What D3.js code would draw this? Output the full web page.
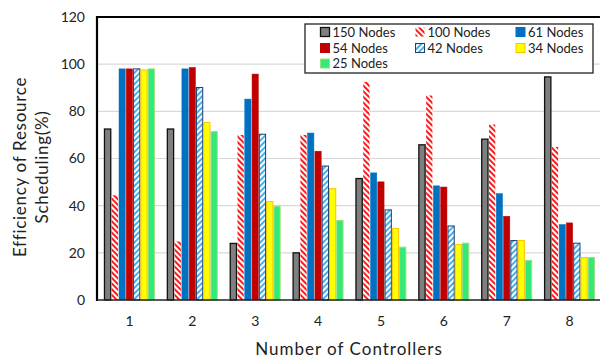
<!DOCTYPE html>
<html><head><meta charset="utf-8">
<script src="https://cdn.jsdelivr.net/npm/d3@7"></script>
<style>
body{margin:0;background:#fff;}
text{font-family:Lato,"Open Sans",sans-serif;fill:#222;}
</style></head>
<body><svg id="c" width="600" height="358"></svg>
<script>
const categories = ["1","2","3","4","5","6","7","8"];
const seriesNames = ["150 Nodes","100 Nodes","61 Nodes","54 Nodes","42 Nodes","34 Nodes","25 Nodes"];
const s150 = [72.5, 72.5, 24, 20, 51.5, 65.8, 68.2, 94.6];
const s100 = [44.4, 24.8, 70, 70, 92.5, 86.7, 74.4, 64.9];
const s61  = [98, 98, 85.2, 70.8, 53.9, 48.4, 45.1, 32];
const s54  = [98, 98.6, 95.8, 63.1, 50.1, 47.9, 35.5, 32.7];
const s42  = [98, 90.1, 70.3, 56.8, 38.2, 31.4, 25.2, 24.1];
const s34  = [97.5, 75.3, 41.7, 47.2, 30.3, 23.5, 25.2, 18];
const s25  = [98, 71.4, 39.8, 33.7, 22.4, 24.1, 16.8, 18];
const yTicks = [0,20,40,60,80,100,120];
const seriesValues = [s150,s100,s61,s54,s42,s34,s25];

const svg = d3.select("#c");
const defs = svg.append("defs");
function stripe(id, color, angle){
  const p = defs.append("pattern").attr("id",id).attr("patternUnits","userSpaceOnUse")
    .attr("width",4).attr("height",4).attr("patternTransform","rotate("+angle+")");
  p.append("rect").attr("width",4).attr("height",4).attr("fill","#fff");
  p.append("rect").attr("width",2).attr("height",4).attr("fill",color);
}
stripe("hRed","#ff1a1a",-45);
stripe("hBlue","#45b0ea",45);

const styles = [
  {fill:"#7f7f7f", stroke:"#111", sw:1.3},
  {fill:"url(#hRed)", stroke:"none", sw:0},
  {fill:"#0070c0", stroke:"#0070c0", sw:0.5},
  {fill:"#c00000", stroke:"#c00000", sw:0.5},
  {fill:"url(#hBlue)", stroke:"#1f3f6f", sw:1},
  {fill:"#ffff00", stroke:"#ffc000", sw:1},
  {fill:"#33ea78", stroke:"#9ddf80", sw:1}
];

const pLeft=98, pRight=601, pTop=17, pBottom=300;
const x0 = d3.scaleBand().domain(categories).range([pLeft,pRight]).paddingInner(0.19).paddingOuter(0.095);
const x1 = d3.scaleBand().domain(seriesNames).range([0,x0.bandwidth()]);
const y = d3.scaleLinear().domain([0,120]).range([pBottom,pTop]);

// gridlines
svg.append("g").selectAll("line").data(yTicks.filter(d=>d>0&&d<120)).join("line")
  .attr("x1",pLeft).attr("x2",600).attr("y1",d=>y(d)).attr("y2",d=>y(d))
  .attr("stroke","#d9d9d9").attr("stroke-width",1.2);

// bars
const groups = svg.append("g").selectAll("g").data(categories).join("g")
  .attr("transform",d=>`translate(${x0(d)},0)`);
groups.selectAll("rect").data((c,ci)=>seriesNames.map((s,si)=>({s,si,v:seriesValues[si][ci]}))).join("rect")
  .attr("x",d=>x1(d.s)+0.5).attr("width",x1.bandwidth()-1)
  .attr("y",d=>y(d.v)).attr("height",d=>pBottom-y(d.v))
  .attr("fill",d=>styles[d.si].fill).attr("stroke",d=>styles[d.si].stroke)
  .attr("stroke-width",d=>styles[d.si].sw);

// axes frame
svg.append("line").attr("x1",97).attr("x2",600).attr("y1",pTop).attr("y2",pTop).attr("stroke","#000").attr("stroke-width",2.2);
svg.append("line").attr("x1",97).attr("x2",97).attr("y1",pTop-1).attr("y2",pBottom+1).attr("stroke","#000").attr("stroke-width",2.2);
svg.append("line").attr("x1",97).attr("x2",600).attr("y1",pBottom).attr("y2",pBottom).attr("stroke","#222").attr("stroke-width",1.6);

// y axis labels
const ya = svg.append("g").attr("transform",`translate(${pLeft},0)`)
  .call(d3.axisLeft(y).tickValues(yTicks).tickSize(0).tickPadding(13));
ya.select(".domain").remove();
ya.selectAll("text").style("font-size","14px").style("font-family","Lato,sans-serif").attr("fill","#222");

// x axis labels
const xa = svg.append("g").attr("transform",`translate(0,${pBottom})`)
  .call(d3.axisBottom(x0).tickSize(0).tickPadding(16));
xa.select(".domain").remove();
xa.selectAll("text").style("font-size","14px").style("font-family","Lato,sans-serif").attr("fill","#222");

// titles
svg.append("text").attr("x",349).attr("y",355).attr("text-anchor","middle")
  .style("font-size","17px").style("letter-spacing","1px").text("Number of Controllers");
const yt = svg.append("text").attr("transform","translate(0,167) rotate(-90)").attr("text-anchor","middle")
  .style("font-size","17px").style("letter-spacing","0.7px");
yt.append("tspan").attr("x",0).attr("y",26).text("Efficiency of Resource");
yt.append("tspan").attr("x",0).attr("y",48).text("Scheduling(%)");

// legend
const lg = svg.append("g");
lg.append("rect").attr("x",305).attr("y",24).attr("width",288).attr("height",49)
  .attr("fill","#fff").attr("stroke","#222").attr("stroke-width",1.3);
const colX = [320.5, 415.5, 516];
const rowY = [32, 48, 63.5];
seriesNames.forEach((s,i)=>{
  const cx = colX[i%3], cy = rowY[Math.floor(i/3)];
  lg.append("rect").attr("x",cx).attr("y",cy-4.5).attr("width",9).attr("height",9)
    .attr("fill",styles[i].fill).attr("stroke",styles[i].stroke==="none"?"none":styles[i].stroke)
    .attr("stroke-width",Math.max(styles[i].sw,1));
  lg.append("text").attr("x",cx+12).attr("y",cy).attr("dy","0.35em")
    .style("font-size","13px").text(s);
});
</script></body></html>
